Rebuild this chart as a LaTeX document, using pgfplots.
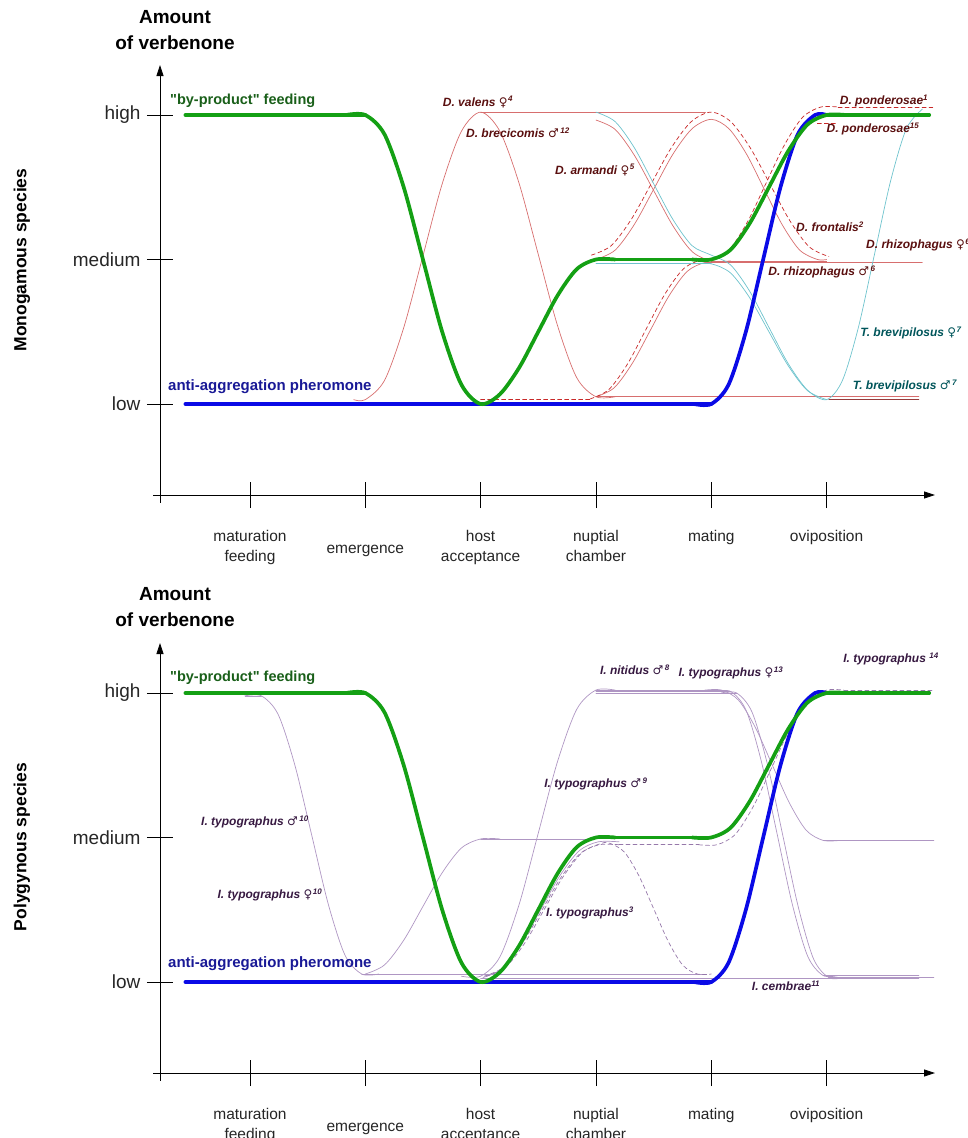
\documentclass[border=0pt]{standalone}
\usepackage{fontspec}
\setmainfont{Liberation Sans}
\newfontfamily\symfont{DejaVu Sans}
\newfontfamily\rawfont{Liberation Sans}
\usepackage{pgfplots}
\pgfplotsset{compat=1.18}
\usetikzlibrary{arrows.meta}
\definecolor{gthick}{RGB}{20,160,20}
\definecolor{bthick}{RGB}{10,10,230}
\definecolor{redthin}{RGB}{215,110,110}
\definecolor{reddash}{RGB}{200,40,40}
\definecolor{redbrown}{RGB}{150,60,60}
\definecolor{cyanthin}{RGB}{110,195,205}
\definecolor{purthin}{RGB}{175,150,195}
\definecolor{purdash}{RGB}{150,120,170}
\definecolor{labred}{RGB}{90,15,15}
\definecolor{labteal}{RGB}{0,85,90}
\definecolor{labpur}{RGB}{55,25,65}
\definecolor{labgreen}{RGB}{25,95,25}
\definecolor{labblue}{RGB}{25,25,150}
\newcommand{\fem}{{\symfont\char"2640}\kern0.5pt}
\newcommand{\mal}{{\symfont\char"2642}\kern1.5pt}
\newcommand{\dq}{{\rawfont"}}
\pgfplotsset{
 myaxis/.style={
  scale only axis, width=775pt, height=430pt,
  xmin=0.22, xmax=6.94, ymin=0.37, ymax=3.346,
  axis lines=left,
  axis line style={line width=0.8pt, black, -{Triangle[length=11pt,width=7pt]}},
  xtick={1,3,4,5,6},
  xticklabels={{maturation\\feeding},{host\\acceptance},{nuptial\\chamber},{mating},{oviposition}},
  extra x ticks={2},
  extra x tick labels={emergence},
  extra x tick style={xticklabel style={yshift=-15pt}},
  xticklabel style={align=center, anchor=north, font=\fontsize{15.5}{20}\selectfont, text=black!85, yshift=-19pt},
  ytick={1,2,3}, yticklabels={low,medium,high},
  yticklabel style={font=\fontsize{19}{22}\selectfont, text=black!85, anchor=east, xshift=-3pt},
  major tick length=26pt, tick align=center,
  tick style={line width=0.8pt, black},
  clip=false,
  thinline/.style={line width=0.7pt, smooth, line cap=round},
  thinflat/.style={line width=0.7pt, line cap=round},
  thickline/.style={line width=3.7pt, smooth, line cap=round},
  thickflat/.style={line width=3.7pt, line cap=round},
  dsh/.style={dash pattern=on 4pt off 3pt},
 }
}
\newcommand{\labfont}{\fontsize{12}{14}\selectfont\bfseries\itshape}
\begin{document}
\begin{tikzpicture}[x=1pt,y=1pt]
% ================= TOP PANEL =================
\begin{axis}[myaxis, at={(160pt,-495pt)}, anchor=south west]
\draw[line width=0.8pt] (axis cs:0.22,0.37) -- (axis cs:0.22,0.315);
\draw[line width=0.8pt] (axis cs:0.22,0.37) -- (axis cs:0.16,0.37);
% thin red
\addplot[thinline, redthin] coordinates {(1.9,1.03) (2,1.03) (2.1667,1.163) (2.3333,1.528) (2.5,2.025) (2.6667,2.523) (2.8333,2.887) (3,3.02) (3.1667,2.888) (3.3333,2.528) (3.5,2.035) (3.6667,1.543) (3.8333,1.182) (4,1.05) (4.1667,1.05)};
\addplot[thinflat, redthin] coordinates {(4,1.05) (6.8,1.05)};
\addplot[thinflat, redthin] coordinates {(3,3.02) (4.95,3.02)};
\addplot[thinline, redthin] coordinates {(4,2.965) (4.1667,2.900) (4.3333,2.721) (4.5,2.478) (4.6667,2.234) (4.8333,2.055) (5,1.99) (5.1667,1.99)};
\addplot[thinflat, redthin] coordinates {(5,1.99) (6,1.99)};
\addplot[thinline, redthin] coordinates {(4,2.0) (4.1667,2.065) (4.3333,2.243) (4.5,2.485) (4.6667,2.728) (4.8333,2.905) (5,2.97) (5.1533,2.905) (5.3067,2.728) (5.46,2.485) (5.6133,2.243) (5.7667,2.065) (5.92,2.0) (6.0,2.0)};
\addplot[thinline, redthin] coordinates {(4,1.05) (4.1583,1.112) (4.3167,1.283) (4.475,1.515) (4.6333,1.748) (4.7917,1.918) (4.95,1.98) (5.1,1.98)};
\addplot[thinflat, redthin] coordinates {(4.95,1.98) (6.83,1.98)};
% dashed red
\addplot[thinline, reddash, dsh] coordinates {(3.96,2.03) (4.1333,2.096) (4.3067,2.278) (4.48,2.525) (4.6533,2.773) (4.8267,2.954) (5,3.02) (5.17,2.953) (5.34,2.77) (5.51,2.52) (5.68,2.27) (5.85,2.087) (6.02,2.02)};
\addplot[thinflat, reddash, dsh] coordinates {(3,1.035) (3.95,1.035)};
\addplot[thinline, reddash, dsh] coordinates {(3.95,1.035) (4.1117,1.100) (4.2733,1.276) (4.435,1.518) (4.5967,1.759) (4.7583,1.935) (4.92,2.0) (5.0,2.0) (5.1583,2.071) (5.3167,2.264) (5.475,2.528) (5.6333,2.791) (5.7917,2.984) (5.95,3.055) (6.1,3.055)};
\addplot[thinflat, reddash, dsh] coordinates {(6.1,3.055) (6.92,3.055)};
\addplot[thinflat, reddash, dsh] coordinates {(5.92,2.94) (6.1,2.94)};
% cyan
\addplot[thinline, cyanthin] coordinates {(4,3.02) (4.1667,2.954) (4.3333,2.773) (4.5,2.525) (4.6667,2.278) (4.8333,2.096) (5,2.03) (5.1667,1.963) (5.3333,1.78) (5.5,1.53) (5.6667,1.28) (5.8333,1.097) (6,1.03) (6.1383,1.165) (6.2767,1.533) (6.415,2.035) (6.5533,2.538) (6.6917,2.905) (6.83,3.04)};
\addplot[thinflat, cyanthin] coordinates {(4,1.97) (5,1.97)};
\addplot[thinline, cyanthin] coordinates {(4.8333,1.97) (5,1.97) (5.1667,1.907) (5.3333,1.735) (5.5,1.5) (5.6667,1.265) (5.8333,1.093) (6,1.03)};
\addplot[thinflat, redbrown] coordinates {(6.02,1.03) (6.8,1.03)};
% thick
\addplot[thickflat, bthick] coordinates {(0.44,1) (5,1)};
\addplot[thickline, bthick] coordinates {(4.85,1) (5,1) (5.15,1.134) (5.3,1.5) (5.45,2) (5.6,2.5) (5.75,2.866) (5.9,3) (6.0,3)};
\addplot[thickflat, gthick] coordinates {(0.44,3) (2,3)};
\addplot[thickline, gthick] coordinates {(1.8333,3) (2,3) (2.1667,2.866) (2.3333,2.5) (2.5,2) (2.6667,1.5) (2.8333,1.134) (3,1) (3.1667,1.067) (3.3333,1.25) (3.5,1.5) (3.6667,1.75) (3.8333,1.933) (4,2) (4.1667,2)};
\addplot[thickflat, gthick] coordinates {(4,2) (5,2)};
\addplot[thickline, gthick] coordinates {(4.8333,2) (5,2) (5.1667,2.067) (5.3333,2.25) (5.5,2.5) (5.6667,2.75) (5.8333,2.933) (6,3) (6.1667,3)};
\addplot[thickflat, gthick] coordinates {(6,3) (6.89,3)};
\end{axis}
% ================= BOTTOM PANEL =================
\begin{axis}[myaxis, at={(160pt,-1073pt)}, anchor=south west]
\draw[line width=0.8pt] (axis cs:0.22,0.37) -- (axis cs:0.22,0.315);
\draw[line width=0.8pt] (axis cs:0.22,0.37) -- (axis cs:0.16,0.37);
\addplot[thinflat, purthin] coordinates {(0.96,2.98) (1.1,2.98)};
\addplot[thinline, purthin] coordinates {(0.955,2.98) (1.1,2.98) (1.245,2.851) (1.39,2.499) (1.535,2.018) (1.68,1.536) (1.825,1.184) (1.97,1.055) (2.115,1.055)};
\addplot[thinflat, purthin] coordinates {(1.97,1.055) (4.96,1.055)};
\addplot[thinline, purthin] coordinates {(2,1.055) (2.1667,1.118) (2.3333,1.289) (2.5,1.523) (2.6667,1.756) (2.8333,1.927) (3,1.99) (3.1667,1.99)};
\addplot[thinflat, purthin] coordinates {(3,1.99) (3.95,1.99)};
\addplot[thinline, purthin] coordinates {(2.8333,1.04) (3,1.04) (3.1667,1.173) (3.3333,1.535) (3.5,2.03) (3.6667,2.525) (3.8333,2.887) (4,3.02) (4.1667,3.02)};
\addplot[thinflat, purthin] coordinates {(4,3.02) (5.09,3.02)};
\addplot[thinline, purthin] coordinates {(4.9433,3.02) (5.09,3.02) (5.2367,2.950) (5.3833,2.76) (5.53,2.5) (5.6767,2.24) (5.8233,2.05) (5.97,1.98) (6.1167,1.98)};
\addplot[thinflat, purthin] coordinates {(5.97,1.98) (6.93,1.98)};
\addplot[thinflat, purthin] coordinates {(4,3.01) (5.17,3.01)};
\addplot[thinline, purthin] coordinates {(5.0367,3.01) (5.17,3.01) (5.3033,2.878) (5.4367,2.519) (5.57,2.028) (5.7033,1.536) (5.8367,1.177) (5.97,1.045) (6.1033,1.045)};
\addplot[thinflat, purthin] coordinates {(5.97,1.045) (6.8,1.045)};
\addplot[thinflat, purthin] coordinates {(4,3.0) (5.22,3.0)};
\addplot[thinline, purthin] coordinates {(5.0867,3.0) (5.22,3.0) (5.3533,2.868) (5.4867,2.508) (5.62,2.015) (5.7533,1.523) (5.8867,1.16) (6.02,1.03) (6.1533,1.03)};
\addplot[thinflat, purthin] coordinates {(6.02,1.03) (6.93,1.03)};
\addplot[thinline, purthin] coordinates {(3.02,1.03) (3.1867,1.093) (3.3533,1.265) (3.52,1.5) (3.6867,1.735) (3.8533,1.907) (4.02,1.97) (4.2,1.97)};
\addplot[thinflat, purthin] coordinates {(3.0,1.022) (6.8,1.022)};
\addplot[thinline, purdash, dsh] coordinates {(3.05,1.04) (3.2167,1.102) (3.3833,1.27) (3.55,1.5) (3.7167,1.73) (3.8833,1.898) (4.05,1.96) (4.12,1.96) (4.2467,1.899) (4.3733,1.734) (4.5,1.508) (4.6267,1.281) (4.7533,1.116) (4.88,1.055) (5.0,1.055)};
\addplot[thinline, purdash, dsh] coordinates {(3.03,1.04) (3.1967,1.101) (3.3633,1.268) (3.53,1.495) (3.6967,1.723) (3.8633,1.889) (4.03,1.95) (4.2,1.95)};
\addplot[thinflat, purdash, dsh] coordinates {(4.2,1.95) (4.89,1.95)};
\addplot[thinline, purdash, dsh] coordinates {(4.89,1.95) (5.05,1.95) (5.2083,2.022) (5.3667,2.218) (5.525,2.485) (5.6833,2.753) (5.8417,2.948) (6.0,3.02) (6.15,3.02)};
\addplot[thinflat, purdash, dsh] coordinates {(6.15,3.02) (6.93,3.02)};
% thick
\addplot[thickflat, bthick] coordinates {(0.44,1) (5,1)};
\addplot[thickline, bthick] coordinates {(4.85,1) (5,1) (5.15,1.134) (5.3,1.5) (5.45,2) (5.6,2.5) (5.75,2.866) (5.9,3) (6.0,3)};
\addplot[thickflat, gthick] coordinates {(0.44,3) (2,3)};
\addplot[thickline, gthick] coordinates {(1.8333,3) (2,3) (2.1667,2.866) (2.3333,2.5) (2.5,2) (2.6667,1.5) (2.8333,1.134) (3,1) (3.1667,1.067) (3.3333,1.25) (3.5,1.5) (3.6667,1.75) (3.8333,1.933) (4,2) (4.1667,2)};
\addplot[thickflat, gthick] coordinates {(4,2) (5,2)};
\addplot[thickline, gthick] coordinates {(4.8333,2) (5,2) (5.1667,2.067) (5.3333,2.25) (5.5,2.5) (5.6667,2.75) (5.8333,2.933) (6,3) (6.1667,3)};
\addplot[thickflat, gthick] coordinates {(6,3) (6.89,3)};
\end{axis}
% ================= TEXT =================
\node[align=center, font=\fontsize{19}{26}\selectfont\bfseries] at (175,-30) {Amount\\of verbenone};
\node[align=center, font=\fontsize{19}{26}\selectfont\bfseries] at (175,-607) {Amount\\of verbenone};
\node[rotate=90, font=\fontsize{17.5}{20}\selectfont\bfseries] at (22,-260) {Monogamous species};
\node[rotate=90, font=\fontsize{17.5}{20}\selectfont\bfseries] at (22,-847) {Polygynous species};
\node[anchor=west, font=\fontsize{14.5}{16}\selectfont\bfseries, text=labgreen, inner sep=0pt] at (170,-101) {\dq by-product\dq{} feeding};
\node[anchor=west, font=\fontsize{14.5}{16}\selectfont\bfseries, text=labgreen, inner sep=0pt] at (170,-678) {\dq by-product\dq{} feeding};
\node[anchor=west, font=\fontsize{15}{16}\selectfont\bfseries, text=labblue, inner sep=0pt] at (168,-387) {anti-aggregation pheromone};
\node[anchor=west, font=\fontsize{15}{16}\selectfont\bfseries, text=labblue, inner sep=0pt] at (168,-964) {anti-aggregation pheromone};
% top species labels
\begin{scope}[every node/.style={font=\labfont, text=labred, inner sep=0pt}]
\node at (478,-102) {D. valens \fem\textsuperscript{4}};
\node at (518,-133) {D. brecicomis \mal\textsuperscript{12}};
\node at (595,-170) {D. armandi \fem\textsuperscript{5}};
\node at (884,-101) {D. ponderosae\textsuperscript{1}};
\node at (873,-129) {D. ponderosae\textsuperscript{15}};
\node at (830,-227) {D. frontalis\textsuperscript{2}};
\node[anchor=west] at (866,-245) {D. rhizophagus \fem\textsuperscript{6}};
\node at (822,-272) {D. rhizophagus \mal\textsuperscript{6}};
\end{scope}
\begin{scope}[every node/.style={font=\labfont, text=labteal, inner sep=0pt}]
\node at (911,-333) {T. brevipilosus \fem\textsuperscript{7}};
\node at (905,-386) {T. brevipilosus \mal\textsuperscript{7}};
\end{scope}
% bottom species labels
\begin{scope}[every node/.style={font=\labfont, text=labpur, inner sep=0pt}]
\node at (255,-822) {I. typographus \mal\textsuperscript{10}};
\node at (270,-895) {I. typographus \fem\textsuperscript{10}};
\node at (635,-670) {I. nitidus \mal\textsuperscript{8}};
\node at (731,-673) {I. typographus \fem\textsuperscript{13}};
\node at (891,-659) {I. typographus \textsuperscript{14}};
\node at (596,-784) {I. typographus \mal\textsuperscript{9}};
\node at (590,-913) {I. typographus\textsuperscript{3}};
\node at (786,-986) {I. cembrae\textsuperscript{11}};
\end{scope}
\pgfresetboundingbox
\path[use as bounding box] (0,0) rectangle (967,-1138);
\end{tikzpicture}
\end{document}
